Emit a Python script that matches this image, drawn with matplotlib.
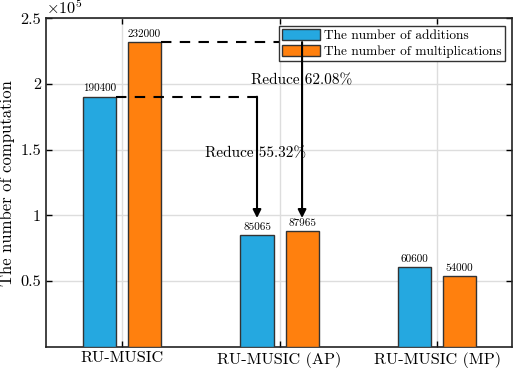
import matplotlib
matplotlib.use("Agg")
import matplotlib.pyplot as plt
import numpy as np

# data
methods = ["RU-MUSIC", "RU-MUSIC (AP)", "RU-MUSIC (MP)"]
additions = [190400, 85065, 60600]
multiplications = [232000, 87965, 54000]
reduce_add = "Reduce 55.32%"
reduce_mul = "Reduce 62.08%"

plt.rcParams["font.family"] = "cmr10"
plt.rcParams["mathtext.fontset"] = "cm"
plt.rcParams["axes.unicode_minus"] = False

blue = "#25A8E0"
orange = "#FF800E"
edge = "#333333"

fig = plt.figure(figsize=(5.15, 3.69), dpi=100)
ax = fig.add_axes([0.0893, 0.0604, 0.905, 0.8896])

x = np.arange(1, len(methods) + 1)
off = 0.143
w = 0.21

ax.bar(x - off, additions, w, color=blue, edgecolor=edge, linewidth=1.0,
       label="The number of additions", zorder=3)
ax.bar(x + off, multiplications, w, color=orange, edgecolor=edge, linewidth=1.0,
       label="The number of multiplications", zorder=3)

for xi, a, m in zip(x, additions, multiplications):
    ax.text(xi - off, a + 2500, str(a), ha="center", va="bottom", fontsize=8)
    ax.text(xi + off, m + 2500, str(m), ha="center", va="bottom", fontsize=8)

# dashed guide lines and arrows
ax.plot([x[0] - off + w / 2, x[1] - off], [additions[0], additions[0]],
        "k--", linewidth=1.5, zorder=4, dashes=(5, 4))
ax.plot([x[0] + off + w / 2, x[1] + off], [multiplications[0], multiplications[0]],
        "k--", linewidth=1.5, zorder=4, dashes=(5, 4))
ax.annotate("", xy=(x[1] - off, 98000), xytext=(x[1] - off, additions[0]),
            arrowprops=dict(arrowstyle="-|>", color="k", lw=1.5, mutation_scale=12,
                            shrinkA=0, shrinkB=0), zorder=4)
ax.annotate("", xy=(x[1] + off, 98000), xytext=(x[1] + off, multiplications[0]),
            arrowprops=dict(arrowstyle="-|>", color="k", lw=1.5, mutation_scale=12,
                            shrinkA=0, shrinkB=0), zorder=6)
ax.text(1.527, 147400, reduce_add, ha="left", va="center", fontsize=11, zorder=5)
ax.text(1.82, 203000, reduce_mul, ha="left", va="center", fontsize=11, zorder=5)

ax.set_xlim(0.5175, 3.476)
ax.set_ylim(0, 250000)
ax.set_xticks(x)
ax.set_xticklabels(methods, fontsize=11.7)
ax.set_yticks([50000, 100000, 150000, 200000, 250000])
ax.set_yticklabels(["0.5", "1", "1.5", "2", "2.5"], fontsize=11.7)
ax.text(0.0, 1.005, r"$\times10^5$", transform=ax.transAxes, fontsize=11.7,
        ha="left", va="bottom")
ax.set_ylabel("The number of computation", fontsize=12, labelpad=4)

ax.tick_params(direction="in", top=True, right=True, length=4, width=1.0)
ax.grid(True, color="#dddddd", linewidth=1.0, zorder=0)
for s in ax.spines.values():
    s.set_linewidth(1.2)
    s.set_color("#222222")

leg = ax.legend(loc="upper right", fontsize=9.6, fancybox=False, framealpha=1,
                edgecolor="#333333", borderaxespad=0.55, handlelength=2.8,
                handleheight=0.9, borderpad=0.25, labelspacing=0.2, handletextpad=0.3)
leg.get_frame().set_linewidth(1.0)
leg.set_zorder(5)

fig.savefig("out.png", dpi=100)
